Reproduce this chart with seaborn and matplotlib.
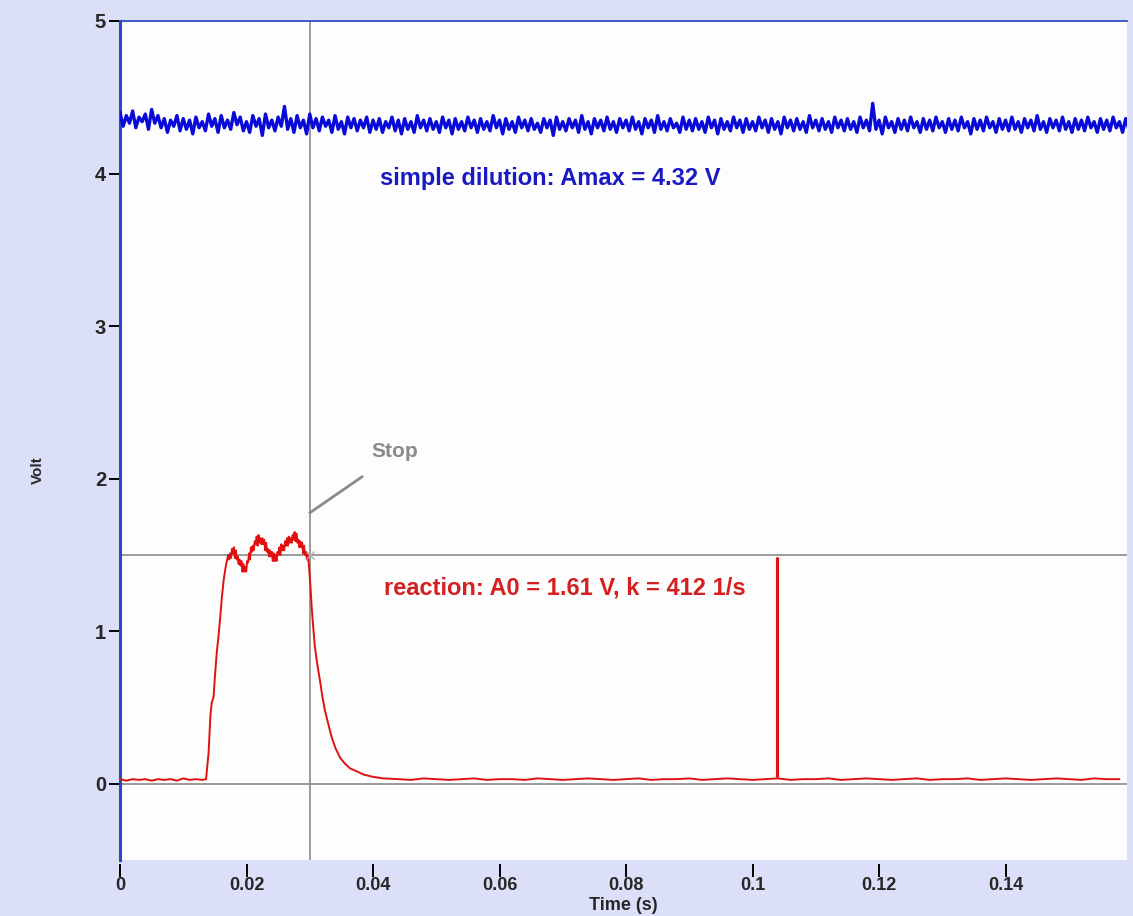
import numpy as np
import pandas as pd
import matplotlib
import matplotlib.pyplot as plt
import seaborn as sns

blue_step = 0.0005
blue_v = [
    4.40, 4.31, 4.38, 4.33, 4.41, 4.30, 4.37, 4.34, 4.39, 4.29, 4.42, 4.33, 4.38, 4.30, 4.36, 4.27, 4.35, 4.31, 4.38, 4.28,
    4.36, 4.29, 4.35, 4.26, 4.37, 4.30, 4.34, 4.28, 4.39, 4.31, 4.36, 4.27, 4.38, 4.30, 4.35, 4.29, 4.40, 4.32, 4.37, 4.28,
    4.34, 4.27, 4.38, 4.31, 4.36, 4.25, 4.39, 4.30, 4.35, 4.28, 4.37, 4.31, 4.44, 4.29, 4.36, 4.27, 4.38, 4.30, 4.35, 4.26,
    4.39, 4.30, 4.36, 4.28, 4.37, 4.31, 4.35, 4.27, 4.38, 4.29, 4.34, 4.26, 4.37, 4.30, 4.36, 4.28, 4.35, 4.30, 4.37, 4.27,
    4.35, 4.29, 4.36, 4.27, 4.34, 4.30, 4.37, 4.28, 4.35, 4.26, 4.36, 4.29, 4.34, 4.27, 4.38, 4.30, 4.35, 4.28, 4.36, 4.29,
    4.34, 4.27, 4.37, 4.30, 4.35, 4.26, 4.36, 4.29, 4.34, 4.28, 4.37, 4.30, 4.35, 4.27, 4.36, 4.29, 4.34, 4.28, 4.38, 4.30,
    4.35, 4.26, 4.36, 4.29, 4.34, 4.27, 4.37, 4.30, 4.35, 4.28, 4.36, 4.29, 4.33, 4.27, 4.36, 4.30, 4.35, 4.25, 4.37, 4.29,
    4.34, 4.28, 4.36, 4.30, 4.35, 4.27, 4.38, 4.29, 4.34, 4.26, 4.36, 4.30, 4.35, 4.28, 4.37, 4.29, 4.34, 4.27, 4.36, 4.30,
    4.35, 4.28, 4.37, 4.29, 4.34, 4.26, 4.36, 4.30, 4.35, 4.27, 4.38, 4.29, 4.34, 4.28, 4.36, 4.30, 4.33, 4.27, 4.37, 4.29,
    4.35, 4.28, 4.36, 4.29, 4.34, 4.27, 4.37, 4.30, 4.35, 4.26, 4.36, 4.29, 4.34, 4.28, 4.37, 4.30, 4.35, 4.27, 4.36, 4.29,
    4.34, 4.28, 4.37, 4.30, 4.35, 4.27, 4.36, 4.29, 4.34, 4.26, 4.37, 4.30, 4.35, 4.28, 4.36, 4.29, 4.34, 4.27, 4.38, 4.30,
    4.35, 4.28, 4.36, 4.29, 4.34, 4.27, 4.37, 4.30, 4.35, 4.28, 4.36, 4.29, 4.34, 4.27, 4.37, 4.30, 4.35, 4.28, 4.46, 4.29,
    4.35, 4.26, 4.37, 4.30, 4.34, 4.27, 4.36, 4.29, 4.35, 4.28, 4.37, 4.30, 4.34, 4.27, 4.36, 4.29, 4.35, 4.28, 4.37, 4.30,
    4.34, 4.27, 4.36, 4.29, 4.35, 4.28, 4.37, 4.30, 4.34, 4.26, 4.36, 4.29, 4.35, 4.28, 4.37, 4.30, 4.34, 4.27, 4.36, 4.29,
    4.35, 4.28, 4.37, 4.29, 4.34, 4.27, 4.36, 4.30, 4.35, 4.28, 4.38, 4.29, 4.34, 4.27, 4.36, 4.30, 4.35, 4.28, 4.37, 4.29,
    4.34, 4.27, 4.36, 4.29, 4.35, 4.28, 4.37, 4.30, 4.34, 4.27, 4.36, 4.29, 4.35, 4.28, 4.37, 4.30, 4.34, 4.27, 4.36, 4.29,
]

# Red trace: reaction (pre-stop baseline, rise, flow plateau, decay, baseline)
red_t_pre = [0.0000, 0.0010, 0.0020, 0.0030, 0.0040, 0.0050, 0.0060, 0.0070,
             0.0080, 0.0090, 0.0100, 0.0110, 0.0120, 0.0130]
red_v_pre = [0.03, 0.02, 0.03, 0.025, 0.03, 0.02, 0.03, 0.025,
             0.03, 0.02, 0.035, 0.025, 0.03, 0.025]

red_t_rise = [0.0136, 0.0140, 0.0143, 0.0145, 0.0148, 0.0150, 0.0153, 0.0156,
              0.0158, 0.0161, 0.0164, 0.0167]
red_v_rise = [0.03, 0.20, 0.45, 0.53, 0.57, 0.70, 0.86, 0.98,
              1.07, 1.22, 1.34, 1.42]

# plateau sampled every 0.15 ms from 17.1 ms
plateau_start = 0.0171
plateau_step = 0.00015
red_v_plateau = [
    1.50, 1.47, 1.51, 1.48, 1.54, 1.51, 1.55, 1.48, 1.53, 1.47,
    1.49, 1.44, 1.47, 1.43, 1.46, 1.39, 1.44, 1.39, 1.42, 1.39,
    1.46, 1.45, 1.51, 1.47, 1.55, 1.52, 1.56, 1.53, 1.59, 1.57,
    1.62, 1.56, 1.63, 1.58, 1.61, 1.57, 1.61, 1.57, 1.60, 1.53,
    1.58, 1.52, 1.54, 1.49, 1.53, 1.49, 1.52, 1.46, 1.51, 1.46,
    1.50, 1.46, 1.52, 1.50, 1.55, 1.50, 1.57, 1.53, 1.56, 1.53,
    1.59, 1.56, 1.61, 1.56, 1.62, 1.58, 1.61, 1.58, 1.63, 1.60,
    1.65, 1.59, 1.64, 1.58, 1.60, 1.55, 1.59, 1.55, 1.58, 1.51,
    1.56, 1.50, 1.52, 1.47, 1.50, 1.44,
]

red_t_fall = [0.0301, 0.0303, 0.0305, 0.0308, 0.0312, 0.0316, 0.0320, 0.0324,
              0.0330, 0.0335, 0.0341, 0.0348, 0.0356, 0.0364, 0.0375, 0.0385,
              0.0400, 0.0416]
red_v_fall = [1.30, 1.16, 1.05, 0.90, 0.78, 0.68, 0.57, 0.48,
              0.38, 0.30, 0.23, 0.17, 0.13, 0.10, 0.08, 0.06,
              0.045, 0.035]

red_t_post = [0.044, 0.046, 0.048, 0.050, 0.052, 0.054, 0.056, 0.058, 0.060, 0.062,
              0.064, 0.066, 0.068, 0.070, 0.072, 0.074, 0.076, 0.078, 0.080, 0.082,
              0.084, 0.086, 0.088, 0.090, 0.092, 0.094, 0.096, 0.098, 0.100, 0.102,
              0.104, 0.106, 0.108, 0.110, 0.112, 0.114, 0.116, 0.118, 0.120, 0.122,
              0.124, 0.126, 0.128, 0.130, 0.132, 0.134, 0.136, 0.138, 0.140, 0.142,
              0.144, 0.146, 0.148, 0.150, 0.152, 0.154, 0.156, 0.158]
red_v_post = [0.03, 0.025, 0.035, 0.03, 0.025, 0.03, 0.035, 0.025, 0.03, 0.03,
              0.025, 0.035, 0.03, 0.025, 0.03, 0.035, 0.03, 0.025, 0.03, 0.035,
              0.025, 0.03, 0.03, 0.035, 0.025, 0.03, 0.035, 0.03, 0.025, 0.03,
              0.035, 0.025, 0.03, 0.03, 0.035, 0.025, 0.03, 0.035, 0.03, 0.025,
              0.03, 0.035, 0.025, 0.03, 0.03, 0.035, 0.025, 0.03, 0.035, 0.03,
              0.025, 0.03, 0.035, 0.03, 0.025, 0.035, 0.03, 0.03]

# Cursor / markers
stop_time = 0.030
stop_level = 1.5
fit_marker_t = 0.1039
fit_marker_v = [0.05, 1.48]

x_ticks = [0, 0.02, 0.04, 0.06, 0.08, 0.1, 0.12, 0.14]
x_tick_labels = ["0", "0.02", "0.04", "0.06", "0.08", "0.1", "0.12", "0.14"]
y_ticks = [0, 1, 2, 3, 4, 5]

blue_text = "simple dilution: Amax = 4.32 V"
red_text = "reaction: A0 = 1.61 V, k = 412 1/s"

# ========================
# Styling
# ========================
BG = "#dcdff8"
BLUE = "#0a0ad8"
RED = "#e01010"
GRAY = "#8a8a8a"

sns.set_style("white")
plt.rcParams["font.family"] = ["Liberation Sans", "DejaVu Sans"]
plt.rcParams["font.weight"] = "bold"

fig = plt.figure(figsize=(11.33, 9.16), dpi=100, facecolor=BG)
ax = fig.add_axes([120 / 1133, 56 / 916, 1007 / 1133, 839 / 916])
ax.set_facecolor("#fdfdfd")

blue_df = pd.DataFrame({"t": np.arange(len(blue_v)) * blue_step, "v": blue_v})
plateau_t = list(plateau_start + np.arange(len(red_v_plateau)) * plateau_step)
red_df = pd.DataFrame({
    "t": red_t_pre + red_t_rise + plateau_t + red_t_fall + red_t_post,
    "v": red_v_pre + red_v_rise + red_v_plateau + red_v_fall + red_v_post,
})

# gray cursor lines
ax.axhline(0, color=GRAY, lw=1.2, zorder=1)
ax.axhline(stop_level, color=GRAY, lw=1.2, zorder=1)
ax.axvline(stop_time, color=GRAY, lw=1.2, zorder=1)

sns.lineplot(data=blue_df, x="t", y="v", ax=ax, color=BLUE, lw=2.4,
             estimator=None, sort=False, zorder=3)
sns.lineplot(data=red_df, x="t", y="v", ax=ax, color=RED, lw=1.4,
             estimator=None, sort=False, zorder=3)
ax.plot([fit_marker_t, fit_marker_t], fit_marker_v, color=RED, lw=2.2, zorder=3)
ax.plot([stop_time], [stop_level], marker="x", color="#b0b0b0", ms=6, mew=1, zorder=4)

# Stop annotation
ax.plot([0.0300, 0.0383], [1.776, 2.013], color=GRAY, lw=2, zorder=2)
ax.text(0.0398, 2.18, "Stop", color=GRAY, fontsize=15, fontweight="bold",
        va="center", ha="left")

ax.text(0.0411, 3.97, blue_text, color="#1a1ac4", fontsize=17,
        fontweight="bold", va="center", ha="left")
ax.text(0.0417, 1.28, red_text, color="#d42020", fontsize=17,
        fontweight="bold", va="center", ha="left")

ax.set_xlim(0, 0.1592)
ax.set_ylim(-0.5, 5)
ax.set_xlabel("")
ax.set_ylabel("")

# spine offset resets the tick objects, so do it before tick styling
ax.spines["bottom"].set_position(("outward", 3))
ax.spines["bottom"].set_visible(False)
ax.spines["right"].set_visible(False)
ax.spines["left"].set_color("#2848c8")
ax.spines["left"].set_linewidth(2.2)
ax.spines["top"].set_color("#3050c0")
ax.spines["top"].set_linewidth(1.3)

ax.set_xticks(x_ticks)
ax.set_xticklabels(x_tick_labels)
ax.set_yticks(y_ticks)
ax.tick_params(axis="x", bottom=True, direction="out", length=9, width=1.4,
               color="black", pad=0, labelsize=13)
ax.tick_params(axis="y", left=True, direction="out", length=8, width=1.4,
               color="black", pad=2, labelsize=14.5)
for lab in ax.get_xticklabels() + ax.get_yticklabels():
    lab.set_fontweight("bold")

fig.text(38 / 1133, 1 - 470 / 916, "Volt", rotation=90, ha="center", va="center",
         fontsize=11, fontweight="bold")
fig.text(623 / 1133, 1 - 906 / 916, "Time (s)", ha="center", va="center",
         fontsize=13, fontweight="bold")

fig.savefig("out.png", dpi=100, facecolor=BG)
